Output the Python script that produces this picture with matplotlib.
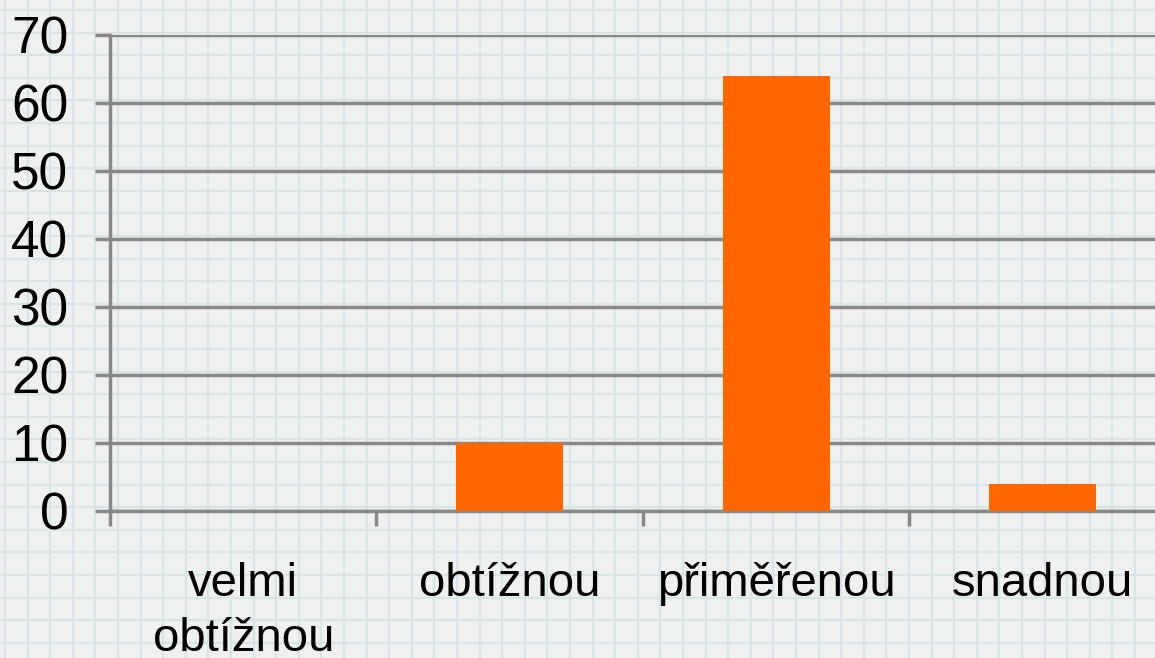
#!/usr/bin/env python3
"""Bar chart of perceived difficulty on a graph-paper background."""
import matplotlib

matplotlib.use("Agg")
import matplotlib.pyplot as plt
import numpy as np

categories = ["velmi\nobtížnou", "obtížnou", "přiměřenou", "snadnou"]
values = [0, 10, 64, 4]
y_ticks = [0, 10, 20, 30, 40, 50, 60, 70]

BAR_COLOR = "#ff6600"
AXIS_GREY = "#888888"
PAPER = "#eff1f1"
PAPER_LINE = "#d9e4e7"

W, H = 1155, 658
plt.rcParams["font.family"] = ["Liberation Sans", "DejaVu Sans"]

fig = plt.figure(figsize=(W / 100, H / 100), dpi=100)
fig.patch.set_facecolor(PAPER)

# graph paper behind everything
bg = fig.add_axes([0, 0, 1, 1], zorder=0)
bg.set_xlim(0, W)
bg.set_ylim(H, 0)
bg.set_facecolor(PAPER)
for x in np.arange(5, W, 22.6):
    bg.axvline(x, color=PAPER_LINE, lw=1.6)
for y in np.arange(10, H, 22.6):
    bg.axhline(y, color=PAPER_LINE, lw=1.6)
bg.axis("off")

ax = fig.add_axes([110 / W, 1 - 511 / H, 1066 / W, 476 / H], zorder=1)
ax.patch.set_alpha(0)
x = np.arange(len(categories))
ax.bar(x, values, width=0.4, color=BAR_COLOR, zorder=3)

ax.set_xlim(-0.5, len(categories) - 0.5)
ax.set_ylim(0, 70)
ax.set_yticks(y_ticks)
ax.set_yticklabels([str(v) for v in y_ticks], fontsize=37)
ax.yaxis.grid(True, color=AXIS_GREY, lw=2.5, zorder=1)
ax.set_axisbelow(True)
ax.tick_params(axis="y", direction="out", length=11, width=2.5, color=AXIS_GREY, pad=19)

ax.set_xticks(x)
ax.set_xticklabels(categories, fontsize=34, linespacing=1.32)
ax.tick_params(axis="x", which="major", length=0, pad=37)
ax.set_xticks(np.arange(-0.5, len(categories), 1.0), minor=True)
ax.tick_params(axis="x", which="minor", direction="out", length=11, width=2.5, color=AXIS_GREY)

for side in ("top", "right"):
    ax.spines[side].set_visible(False)
ax.spines["left"].set_color(AXIS_GREY)
ax.spines["left"].set_linewidth(2.5)
ax.spines["bottom"].set_color(AXIS_GREY)
ax.spines["bottom"].set_linewidth(2.5)

fig.savefig("out.png", dpi=100, facecolor=PAPER)
